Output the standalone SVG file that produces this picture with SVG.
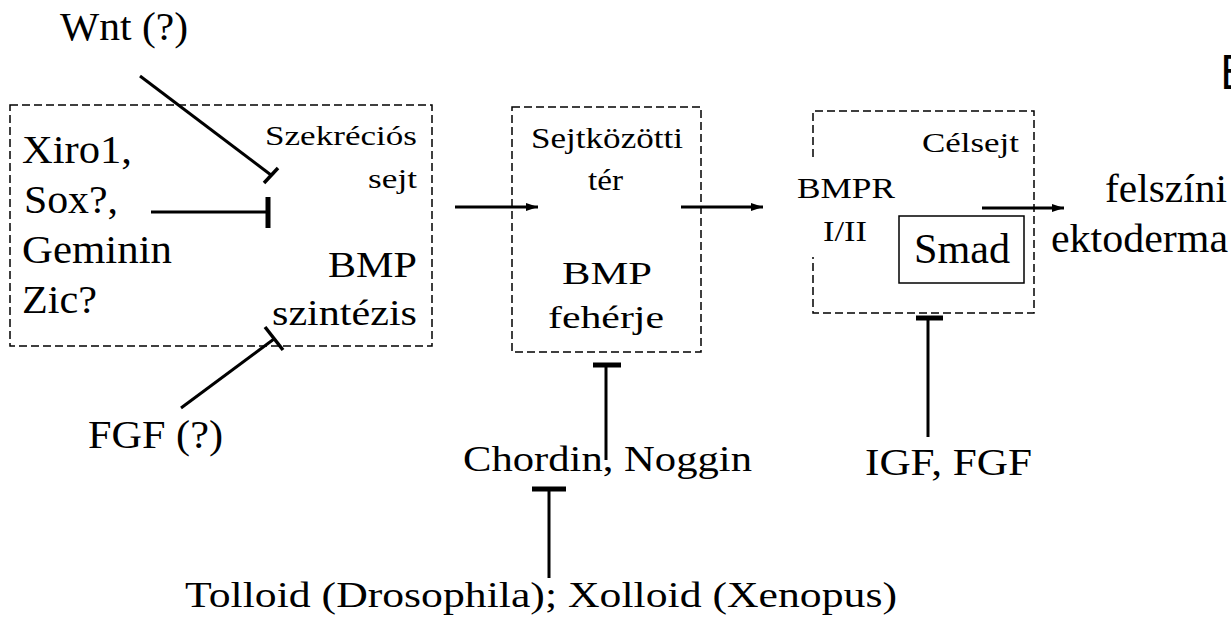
<svg xmlns="http://www.w3.org/2000/svg" width="1231" height="618" viewBox="0 0 1231 618">
<style>
.box{fill:none;stroke:#000;stroke-width:1.5;stroke-dasharray:8 4}
.ln{fill:none;stroke:#000;stroke-width:3}
.bar{fill:none;stroke:#000;stroke-width:5}
.bar3{fill:none;stroke:#000;stroke-width:3.5}
</style>
<defs>
<marker id="ah" viewBox="0 0 12 10" refX="12" refY="5" markerWidth="12" markerHeight="10" markerUnits="userSpaceOnUse" orient="auto">
<path d="M0,1 L12,5 L0,9 Z" fill="#000"/>
</marker>
</defs>
<rect width="1231" height="618" fill="#fff"/>

<g font-family="Liberation Serif, Times New Roman, serif" fill="#000" lengthAdjust="spacingAndGlyphs">
<g id="secretory-cell">
<rect class="box" x="10" y="105" width="422" height="241"/>
<text x="22" y="163" font-size="40" textLength="110" lengthAdjust="spacingAndGlyphs">Xiro1,</text>
<text x="24" y="213" font-size="40" textLength="94" lengthAdjust="spacingAndGlyphs">Sox?,</text>
<text x="22" y="263" font-size="40" textLength="150" lengthAdjust="spacingAndGlyphs">Geminin</text>
<text x="22" y="313" font-size="40" textLength="75" lengthAdjust="spacingAndGlyphs">Zic?</text>
<text x="265" y="145" font-size="28" textLength="152" lengthAdjust="spacingAndGlyphs">Szekréciós</text>
<text x="368" y="188" font-size="28" textLength="49" lengthAdjust="spacingAndGlyphs">sejt</text>
<text x="328" y="277" font-size="36" textLength="89" lengthAdjust="spacingAndGlyphs">BMP</text>
<text x="272" y="325" font-size="36" textLength="145" lengthAdjust="spacingAndGlyphs">szintézis</text>
</g>

<g id="intercellular-space">
<rect class="box" x="512" y="107" width="189" height="245"/>
<text x="531" y="148" font-size="29" textLength="152" lengthAdjust="spacingAndGlyphs">Sejtközötti</text>
<text x="588" y="190" font-size="29" textLength="35" lengthAdjust="spacingAndGlyphs">tér</text>
<text x="562" y="284" font-size="32" textLength="90" lengthAdjust="spacingAndGlyphs">BMP</text>
<text x="548" y="328" font-size="32" textLength="116" lengthAdjust="spacingAndGlyphs">fehérje</text>
</g>

<g id="target-cell">
<path class="box" d="M813,157 V111 H1034 V313 H813 V257"/>
<text x="922" y="152" font-size="28" textLength="97" lengthAdjust="spacingAndGlyphs">Célsejt</text>
<text x="797" y="198" font-size="29" textLength="98" lengthAdjust="spacingAndGlyphs">BMPR</text>
<text x="823" y="241" font-size="29" textLength="44" lengthAdjust="spacingAndGlyphs">I/II</text>
</g>

<g id="smad">
<rect x="899" y="216" width="125" height="67" fill="none" stroke="#000" stroke-width="1.5"/>
<text x="914" y="263" font-size="42" textLength="96" lengthAdjust="spacingAndGlyphs">Smad</text>
</g>

<g id="surface-ectoderm">
<text x="1105" y="202" font-size="41" textLength="122" lengthAdjust="spacingAndGlyphs">felszíni</text>
<text x="1051" y="252" font-size="41" textLength="177" lengthAdjust="spacingAndGlyphs">ektoderma</text>
</g>

<g id="wnt">
<text x="60" y="40" font-size="40" textLength="128" lengthAdjust="spacingAndGlyphs">Wnt (?)</text>
</g>

<g id="fgf">
<text x="88" y="448" font-size="40" textLength="135" lengthAdjust="spacingAndGlyphs">FGF (?)</text>
</g>

<g id="chordin-noggin">
<text x="463" y="471" font-size="35" textLength="289" lengthAdjust="spacingAndGlyphs">Chordin, Noggin</text>
</g>

<g id="igf-fgf">
<text x="865" y="475" font-size="38" textLength="167" lengthAdjust="spacingAndGlyphs">IGF, FGF</text>
</g>

<g id="tolloid">
<text x="185" y="607" font-size="36" textLength="712" lengthAdjust="spacingAndGlyphs">Tolloid (Drosophila); Xolloid (Xenopus)</text>
</g>
</g>

<g id="edge-letter">
<text x="1220" y="89" font-family="DejaVu Sans Condensed, DejaVu Sans, sans-serif" font-size="46" fill="#000">E</text>
</g>

<g id="connectors">
<line class="ln" x1="140" y1="76" x2="271" y2="175"/>
<line class="bar3" x1="264" y1="183" x2="278" y2="168"/>
<line class="ln" x1="151" y1="212" x2="268" y2="212"/>
<line class="bar" x1="268" y1="197" x2="268" y2="228"/>
<line class="ln" x1="181" y1="408" x2="274" y2="339"/>
<line class="bar3" x1="265" y1="327" x2="283" y2="350"/>
<line class="ln" x1="455" y1="207" x2="538" y2="207" marker-end="url(#ah)"/>
<line class="ln" x1="681" y1="207" x2="763" y2="207" marker-end="url(#ah)"/>
<line class="ln" x1="982" y1="208" x2="1064" y2="208" marker-end="url(#ah)"/>
<line class="ln" x1="606" y1="365" x2="606" y2="460"/>
<line class="bar" x1="593" y1="365" x2="621" y2="365"/>
<line class="ln" x1="928" y1="318" x2="928" y2="437"/>
<line class="bar" x1="916" y1="318" x2="943" y2="318"/>
<line class="ln" x1="549" y1="489" x2="549" y2="578"/>
<line class="bar" x1="532" y1="489" x2="566" y2="489"/>
</g>
</svg>
